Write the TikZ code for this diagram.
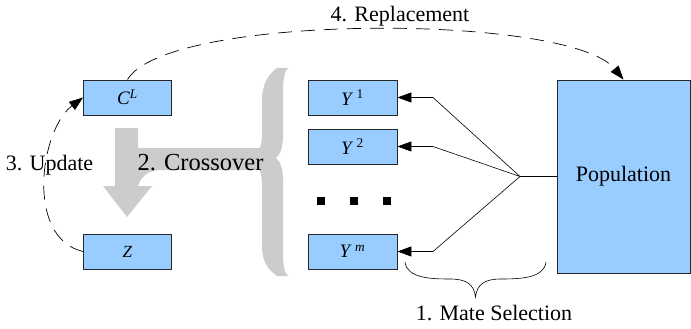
\documentclass[tikz,border=0pt]{standalone}
\usepackage{fontspec}
\setmainfont{Liberation Serif}
\usetikzlibrary{arrows.meta}
\definecolor{boxblue}{RGB}{153,204,255}
\definecolor{crossgray}{RGB}{204,204,204}
\tikzset{
  box/.style={draw=black!85, line width=0.9pt, fill=boxblue, minimum width=88pt, minimum height=35pt, inner sep=0pt, font=\rmfamily\fontsize{19}{22}\selectfont},
  lbl/.style={font=\rmfamily\fontsize{22}{26}\selectfont, inner sep=0pt, anchor=base},
  arr/.style={-{Triangle[length=14pt,width=10pt]}, line width=0.6pt},
  dasharr/.style={dash pattern=on 14pt off 9pt, line width=0.7pt, -{Triangle[length=14pt,width=10pt]}},
  dot/.style={fill=black, minimum size=8pt, inner sep=0pt}
}
\begin{document}
\begin{tikzpicture}[x=1pt,y=-1pt]
\useasboundingbox (0,0) rectangle (691,329);
% gray crossover shape
\fill[crossgray] (115,128) -- (138,128) -- (138,148) -- (262,148) -- (262,170) -- (160,170)
  .. controls (148,170) and (140,178) .. (138,186) -- (152,186) -- (127,217) -- (103,186) -- (115,186) -- cycle;
\fill[crossgray] (277,68) -- (288,68) .. controls (284,72) and (283,80) .. (283,95) -- (283,135)
  .. controls (283,148) and (280,155) .. (276,158) .. controls (280,161) and (283,168) .. (283,180)
  -- (283,250) .. controls (283,265) and (284,272) .. (288,276) -- (277,276)
  .. controls (266,268) and (262,260) .. (262,245) -- (262,185)
  .. controls (262,172) and (258,162) .. (250,159) .. controls (258,156) and (262,146) .. (262,135)
  -- (262,100) .. controls (262,85) and (268,74) .. (277,68) -- cycle;
\node[lbl, font=\rmfamily\fontsize{24.5}{28}\selectfont] (cross) at (200.5,170) {2. Crossover};
% boxes
\node[box] (C) at (127.5,97.5) {\textit{C}\textsuperscript{\textit{L}}};
\node[box] (Z) at (127.5,251.5) {\fontsize{17}{20}\selectfont\textit{Z}};
\node[box, minimum width=89pt] (Y1) at (352.5,97.5) {\textit{Y}\,\textsuperscript{1}};
\node[box, minimum width=89pt] (Y2) at (352.5,146.5) {\textit{Y}\,\textsuperscript{2}};
\node[box, minimum width=89pt] (Ym) at (352.5,251.5) {\textit{Y}\,\textsuperscript{\textit{m}}};
\node[box, minimum width=133pt, minimum height=193pt, font=\rmfamily\fontsize{22}{26}\selectfont] (Pop) at (623.5,176.5) {Population};
% ellipsis
\node[dot] (d1) at (321,201) {};
\node[dot] (d2) at (354,201) {};
\node[dot] (d3) at (387,201) {};
% mate selection lines
\coordinate (F) at (520,176.5);
\coordinate (b1) at (433,97.5);
\coordinate (b2) at (433,146.5);
\coordinate (bm) at (433,251.5);
\draw[line width=0.6pt] (Pop.west) -- (F);
\draw[arr] (F) -- (b1) -- (Y1.east);
\draw[arr] (F) -- (b2) -- (Y2.east);
\draw[arr] (F) -- (bm) -- (Ym.east);
% brace
\coordinate (br1) at (405,262);
\coordinate (br2) at (546,262);
\coordinate (brt) at (475.5,297);
\draw[line width=0.6pt] (br1) .. controls (407,278) and (430,279) .. (450,279)
  .. controls (466,279) and (474,284) .. (brt)
  .. controls (477,284) and (485,279) .. (501,279)
  .. controls (521,279) and (544,278) .. (br2);
\node[lbl] (mate) at (494,320) {1. Mate Selection};
% dashed curves
\draw[dasharr] (Z.west) .. controls (25,238) and (40,130) .. (C.west);
\node[lbl] (upd) at (49.5,170) {3. Update};
\draw[dasharr] (C.north) .. controls (167,13) and (569,13) .. (Pop.north);
\node[lbl] (rep) at (400,22) {4. Replacement};
\end{tikzpicture}
\end{document}
